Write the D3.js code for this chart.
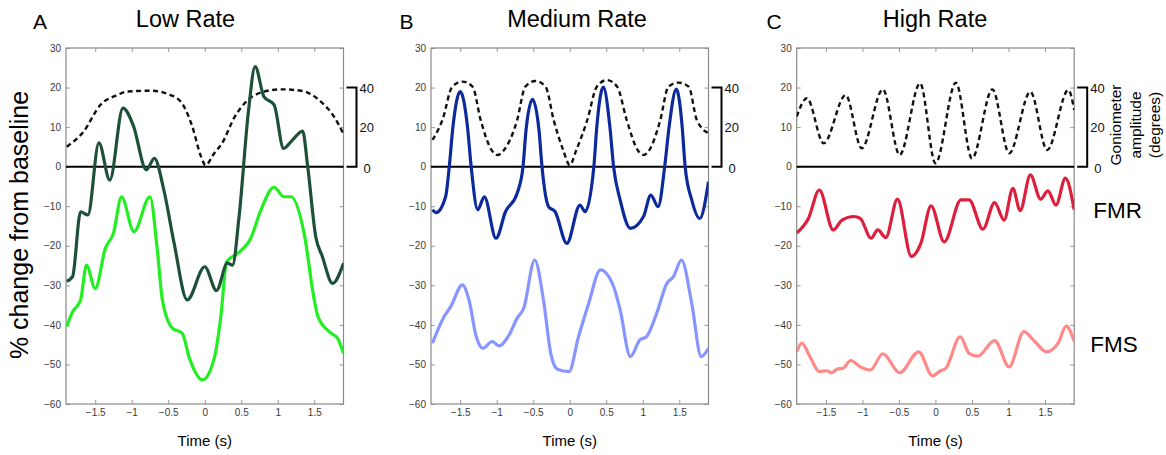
<!DOCTYPE html>
<html>
<head>
<meta charset="utf-8">
<script src="https://cdn.jsdelivr.net/npm/d3@7"></script>
<style>
  html, body { margin: 0; padding: 0; background: #fff; }
  svg { display: block; font-family: "Liberation Sans", Arial, Helvetica, sans-serif; }
</style>
</head>
<body>
<svg id="chart" width="1166" height="455"></svg>
<script>
// ---------- DATA ----------
const panelLetters = ["A", "B", "C"];
const panelTitles = ["Low Rate", "Medium Rate", "High Rate"];
const xTicks = [-1.5, -1, -0.5, 0, 0.5, 1, 1.5];
const yTicks = [30, 20, 10, 0, -10, -20, -30, -40, -50, -60];
const gonTicks = [0, 20, 40];
const timeDomain = [-1.9, 1.9];
const pctDomain = [-60, 30];
const gonDomainDeg = [0, 40];

// Low rate (A)
const lowFmrT = [-1.89, -1.81, -1.70, -1.60, -1.45, -1.30, -1.12, -0.98, -0.80, -0.69, -0.56, -0.42, -0.24, 0.00, 0.16, 0.31, 0.38, 0.47, 0.60, 0.69, 0.81, 0.95, 1.08, 1.20, 1.34, 1.41, 1.52, 1.61, 1.75, 1.90];
const lowFmrV = [-29, -27.8, -11.4, -12.2, 6, -3.4, 14.8, 10.5, -0.8, 2.1, -5.9, -19.3, -33.7, -25.3, -31.3, -24.4, -24.9, -12.6, 14.3, 25.3, 17.7, 15.6, 4.6, 6.7, 9.0, 0, -17.7, -22.7, -29.5, -24.4];
const lowFmsT = [-1.89, -1.81, -1.70, -1.62, -1.50, -1.36, -1.25, -1.14, -0.97, -0.75, -0.65, -0.58, -0.44, -0.31, -0.21, -0.03, 0.13, 0.22, 0.30, 0.45, 0.63, 0.77, 0.95, 1.08, 1.18, 1.36, 1.50, 1.55, 1.73, 1.82, 1.90];
const lowFmsV = [-40.4, -36.7, -33.7, -24.9, -30.8, -20.6, -16.8, -7.6, -16.4, -7.6, -21, -33.7, -40.9, -42.1, -48.4, -53.9, -48.4, -37.9, -24.0, -21.9, -18.1, -10.9, -5.2, -7.6, -7.6, -16.8, -33.7, -37.9, -42.1, -43.4, -47.2];
const lowGonT = [-1.89, -1.66, -1.43, -1.20, -1.06, -0.74, -0.47, -0.31, -0.17, -0.05, 0.01, 0.13, 0.24, 0.40, 0.59, 0.81, 1.04, 1.32, 1.59, 1.77, 1.90];
const lowGonV = [10.1, 17.7, 31.2, 36.2, 38, 38.4, 36.2, 32, 20.2, 5, 0.8, 6.8, 12, 24.5, 33.7, 37.9, 39.1, 38.4, 32.9, 25.3, 16.5];

// Medium rate (B)
const medFmrT = [-1.88, -1.83, -1.70, -1.65, -1.60, -1.50, -1.40, -1.35, -1.26, -1.17, -1.01, -0.88, -0.72, -0.64, -0.60, -0.51, -0.42, -0.38, -0.29, -0.20, -0.04, 0.14, 0.21, 0.33, 0.37, 0.46, 0.55, 0.60, 0.69, 0.83, 1.01, 1.11, 1.21, 1.30, 1.36, 1.46, 1.54, 1.58, 1.67, 1.78, 1.90];
const medFmrV = [-10.9, -11.6, -7.6, 0, 10, 19, 10, 0, -10.9, -7.6, -18.1, -11.4, -6.7, 0, 9, 17, 9, 0, -10.1, -11.4, -19.4, -9.7, -11.4, 0, 10, 20.1, 10, 0, -8.4, -15.6, -12.6, -7.2, -10.1, 0, 10, 19.6, 10, 0, -8.4, -13.1, -3.8];
const medFmsT = [-1.88, -1.72, -1.63, -1.47, -1.38, -1.28, -1.19, -1.06, -0.97, -0.83, -0.72, -0.63, -0.48, -0.36, -0.26, -0.17, -0.01, 0.12, 0.26, 0.42, 0.60, 0.69, 0.83, 0.96, 1.05, 1.19, 1.33, 1.42, 1.53, 1.67, 1.80, 1.90];
const medFmsV = [-44.6, -37.9, -35.4, -29.9, -33.7, -43, -45.9, -44.2, -45.3, -42.5, -38.3, -35.8, -23.6, -33.7, -47.2, -51.2, -51.8, -43, -34.5, -26.1, -30.3, -36.2, -48, -43.8, -43, -37.1, -29.5, -27.8, -23.6, -34.5, -48, -45.9];
const medGonT = [-1.88, -1.74, -1.61, -1.47, -1.33, -1.22, -1.07, -0.99, -0.90, -0.72, -0.61, -0.47, -0.33, -0.22, -0.09, 0, 0.09, 0.24, 0.37, 0.51, 0.65, 0.78, 0.93, 1.01, 1.09, 1.24, 1.35, 1.49, 1.63, 1.74, 1.90];
const medGonV = [13.5, 24, 40.4, 43, 40.4, 23.6, 8.4, 5.9, 8.4, 23.6, 40.4, 43.3, 40.4, 23.6, 8.4, 0.8, 8.4, 23.6, 40.4, 43.8, 40.4, 23.6, 8.4, 5.9, 8.4, 23.6, 40.4, 42.5, 40.4, 23.6, 16.9];

// High rate (C)
const highFmrT = [-1.90, -1.74, -1.59, -1.40, -1.28, -1.12, -1.03, -0.88, -0.79, -0.68, -0.52, -0.33, -0.20, -0.06, 0.12, 0.35, 0.46, 0.65, 0.81, 0.94, 1.06, 1.16, 1.30, 1.44, 1.54, 1.65, 1.78, 1.90];
const highFmrV = [-16.8, -13.1, -5.9, -16, -13.5, -12.6, -13.1, -18.1, -16, -17.9, -8.2, -22.7, -19.4, -9.9, -19.0, -8.4, -8.4, -15.8, -9.1, -13.5, -5.5, -11.1, -2.1, -8.2, -6.1, -9.7, -2.9, -10.9];
const highFmsT = [-1.90, -1.83, -1.72, -1.59, -1.49, -1.42, -1.34, -1.27, -1.16, -1.03, -0.89, -0.72, -0.49, -0.23, -0.04, 0.07, 0.14, 0.34, 0.46, 0.58, 0.81, 1.01, 1.21, 1.36, 1.52, 1.68, 1.79, 1.90];
const highFmsV = [-46.8, -44.6, -48, -51.8, -51.6, -52.1, -51.1, -51, -49, -50.6, -51.4, -47.3, -52.1, -46.8, -52.9, -51.6, -51, -43, -47.2, -47.9, -44, -50.6, -41.7, -44.2, -46.8, -44.6, -40.3, -44.2];
const highGonT = [-1.90, -1.76, -1.53, -1.23, -1.01, -0.72, -0.49, -0.21, 0.00, 0.28, 0.50, 0.78, 1.01, 1.30, 1.53, 1.82, 1.90];
const highGonV = [25.3, 34.6, 11.8, 36.2, 9.3, 39.1, 5.9, 42.2, 1.7, 42.5, 4.2, 39.1, 6.8, 37.9, 8.4, 38.8, 28.7];

const fmrColors = ["#1c5038", "#0c2a9c", "#dd1e3c"];
const fmsColors = ["#22ee22", "#8796ff", "#ff8888"];
const seriesLabels = ["FMR", "FMS"];

// ---------- LAYOUT ----------
const panelsData = [
  { fmr: [lowFmrT, lowFmrV], fms: [lowFmsT, lowFmsV], gon: [lowGonT, lowGonV] },
  { fmr: [medFmrT, medFmrV], fms: [medFmsT, medFmsV], gon: [medGonT, medGonV] },
  { fmr: [highFmrT, highFmrV], fms: [highFmsT, highFmsV], gon: [highGonT, highGonV] }
];
const lefts = [66, 431, 796.7];
const titleXs = [185.5, 577, 935];
const letterXs = [33, 399.5, 766.5];
const plotW = 277.5, plotTop = 48, plotBottom = 404;

const svg = d3.select("#chart");
const zip = (t, v) => t.map((d, i) => [d, v[i]]);

panelsData.forEach((pd, i) => {
  const L = lefts[i], R = L + plotW;
  const x = d3.scaleLinear().domain(timeDomain).range([L, R]);
  const y = d3.scaleLinear().domain(pctDomain).range([plotBottom, plotTop]);
  const yGon = d3.scaleLinear().domain(gonDomainDeg).range([y(0), y(20)]);

  const g = svg.append("g");

  const clipId = "clip" + i;
  svg.append("clipPath").attr("id", clipId).append("rect")
    .attr("x", L).attr("y", plotTop).attr("width", plotW).attr("height", plotBottom - plotTop);

  const axStyle = sel => {
    sel.select(".domain").remove();
    sel.selectAll(".tick line").attr("stroke", "#999").attr("stroke-width", 1);
    sel.selectAll(".tick text").attr("fill", "#3a3a3a").style("font-size", "10px")
      .style("font-family", "'Liberation Sans', Arial, sans-serif");
  };
  g.append("g").attr("transform", `translate(0,${plotBottom})`)
    .call(d3.axisBottom(x).tickValues(xTicks).tickSize(-4).tickPadding(5).tickFormat(d3.format("~g")))
    .call(axStyle);
  g.append("g").attr("transform", `translate(0,${plotTop})`)
    .call(d3.axisTop(x).tickValues(xTicks).tickSize(-4).tickFormat(""))
    .call(axStyle);
  g.append("g").attr("transform", `translate(${L},0)`)
    .call(d3.axisLeft(y).tickValues(yTicks).tickSize(-4).tickPadding(5).tickFormat(d3.format("d")))
    .call(axStyle);
  g.append("g").attr("transform", `translate(${R},0)`)
    .call(d3.axisRight(y).tickValues(yTicks).tickSize(-4).tickFormat(""))
    .call(axStyle);

  g.append("rect").attr("x", L).attr("y", plotTop).attr("width", plotW).attr("height", plotBottom - plotTop)
    .attr("fill", "none").attr("stroke", "#8a8a8a").attr("stroke-width", 1.2);

  g.append("line").attr("x1", L).attr("x2", R).attr("y1", y(0)).attr("y2", y(0))
    .attr("stroke", "#000").attr("stroke-width", 2);

  const line = d3.line().curve(d3.curveMonotoneX).x(d => x(d[0])).y(d => y(d[1]));
  const gonLine = d3.line().curve(d3.curveMonotoneX).x(d => x(d[0])).y(d => yGon(d[1]));

  const curves = g.append("g").attr("clip-path", `url(#${clipId})`);
  curves.append("path").datum(zip(pd.gon[0], pd.gon[1])).attr("d", gonLine)
    .attr("fill", "none").attr("stroke", "#111").attr("stroke-width", 2.4).attr("stroke-dasharray", "5,3.5");
  curves.append("path").datum(zip(pd.fms[0], pd.fms[1])).attr("d", line)
    .attr("fill", "none").attr("stroke", fmsColors[i]).attr("stroke-width", 3.2).attr("stroke-linejoin", "round");
  curves.append("path").datum(zip(pd.fmr[0], pd.fmr[1])).attr("d", line)
    .attr("fill", "none").attr("stroke", fmrColors[i]).attr("stroke-width", 3.2).attr("stroke-linejoin", "round");

  const bx = R + 13;
  g.append("path")
    .attr("d", `M${R + 3},${yGon(40)}H${bx}V${yGon(0)}H${R + 3}`)
    .attr("fill", "none").attr("stroke", "#000").attr("stroke-width", 2);
  gonTicks.forEach(t => {
    g.append("text").attr("x", bx + (t === 0 ? 7 : 3)).attr("y", yGon(t) + (t === 0 ? 6 : 5))
      .attr("font-size", 13).attr("fill", "#111").text(t);
  });

  g.append("text").attr("x", letterXs[i]).attr("y", 29).attr("font-size", 21).attr("fill", "#000").text(panelLetters[i]);
  g.append("text").attr("x", titleXs[i]).attr("y", 26.5).attr("text-anchor", "middle")
    .attr("font-size", 23.5).attr("fill", "#000").text(panelTitles[i]);
  g.append("text").attr("x", x(0)).attr("y", 446).attr("text-anchor", "middle")
    .attr("font-size", 15).attr("fill", "#000").text("Time (s)");

  if (i === 2) {
    g.append("text").attr("x", R + 19).attr("y", 218).attr("font-size", 22.5).attr("fill", "#000").text(seriesLabels[0]);
    g.append("text").attr("x", R + 16).attr("y", 352).attr("font-size", 22.5).attr("fill", "#000").text(seriesLabels[1]);
    const gl = ["Goniometer", "amplitude", "(degrees)"];
    const bases = [1121, 1140.5, 1159.5];
    gl.forEach((s, k) => {
      g.append("text").attr("transform", `translate(${bases[k]},125) rotate(-90)`)
        .attr("text-anchor", "middle").attr("font-size", 15.5).attr("fill", "#000").text(s);
    });
  }
});

svg.append("text").attr("transform", "translate(28,225) rotate(-90)")
  .attr("text-anchor", "middle").attr("font-size", 25).attr("fill", "#000")
  .text("% change from baseline");
</script>
</body>
</html>
